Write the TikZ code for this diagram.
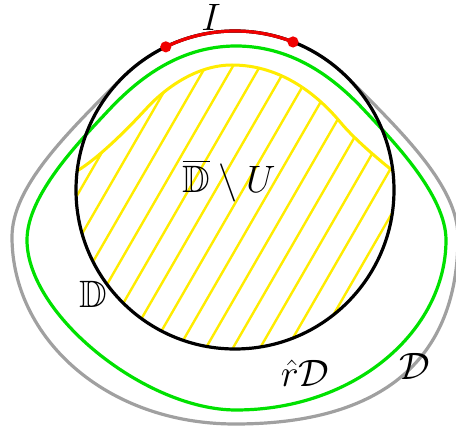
\documentclass[tikz,border=0pt]{standalone}
\usepackage{amssymb}
\usetikzlibrary{calc}
\definecolor{cgray}{RGB}{160,160,160}
\definecolor{cgreen}{RGB}{0,225,0}
\definecolor{cyellow}{RGB}{255,236,0}
\definecolor{cred}{RGB}{240,0,0}
\begin{document}
\begin{tikzpicture}[x=0.5pt,y=-0.5pt,
  graycurve/.style={draw=cgray,line width=1.6pt},
  greencurve/.style={draw=cgreen,line width=1.6pt},
  hatchline/.style={draw=cyellow,line width=1.2pt},
  ucurve/.style={draw=cyellow,line width=1.5pt},
  disk/.style={draw=black,line width=1.6pt},
  redarc/.style={draw=cred,line width=1.6pt},
  reddot/.style={circle,fill=cred,inner sep=0pt,minimum size=5.6pt},
  lbl/.style={font=\huge,inner sep=0pt,anchor=base,scale=0.92,transform shape}]
\useasboundingbox (0,0) rectangle (456,427);
\clip (0,0) rectangle (456,427);
\coordinate (O) at (235,190);
\coordinate (GR) at ($(O)+(-45:159)$);
\coordinate (L) at (12,237);
\coordinate (B) at (235,424);
\coordinate (R) at (458,237);
\coordinate (YL) at ($(O)+(186.9:159)$);
\coordinate (YR) at ($(O)+(-6.9:159)$);
\coordinate (IA) at ($(O)+(-115.8:159)$);
\coordinate (IB) at ($(O)+(-68.6:159)$);
% outer domain D
\draw[graycurve] (GR) arc[start angle=-45,end angle=-135,radius=159]
  .. controls (66,134) and (12,187) .. (L)
  .. controls (12,337) and (105,424) .. (B)
  .. controls (385,424) and (458,357) .. (R)
  .. controls (458,187) and (404,134) .. cycle;
% r D
\coordinate (GT) at (236,46);
\coordinate (GM1) at (365,111);
\coordinate (GRM) at (446,240);
\coordinate (GB) at (236,410);
\coordinate (GLM) at (27,240);
\coordinate (GM2) at (107,112);
\draw[greencurve] (GT)
  .. controls (296,46) and (338,82) .. (GM1)
  .. controls (392,140) and (446,195) .. (GRM)
  .. controls (446,330) and (356,410) .. (GB)
  .. controls (146,410) and (27,315) .. (GLM)
  .. controls (27,195) and (80,141) .. (GM2)
  .. controls (134,83) and (176,46) .. cycle;
% boundary of U inside the disk
\coordinate (YT) at (232,65);
\coordinate (YM) at (341,123);
\coordinate (YM2) at (145,110);
\def\ucurvepath{(YL) .. controls (98.6,158) and (128,128.5) .. (YM2)
  .. controls (165,87.8) and (197,65) .. (YT)
  .. controls (282,65) and (318.6,96) .. (YM)
  .. controls (353.8,138.4) and (377.2,158.4) .. (YR)}
\begin{scope}
\clip \ucurvepath arc[start angle=-6.9,end angle=186.9,radius=159] -- cycle;
\foreach \k in {-8,...,16}{
  \draw[hatchline] ({90+27.1*\k-115.4},420) -- ({90+27.1*\k+115.4},20);
}
\end{scope}
\draw[ucurve] \ucurvepath;
% unit disk
\draw[disk] (O) circle[radius=159];
% arc I
\draw[redarc] (IA) arc[start angle=-115.8,end angle=-68.6,radius=159];
\node[reddot] (dA) at (IA) {};
\node[reddot] (dB) at (IB) {};
% labels
\node[lbl] (lI) at (211,31) {$I$};
\node[lbl] (lDU) at (229,193) {$\overline{\mathbb{D}}\setminus U$};
\node[lbl] (lD) at (93,308) {$\mathbb{D}$};
\node[lbl] (lrD) at (305,387) {$\hat r\mathcal{D}$};
\node[lbl] (lcD) at (415,380) {$\mathcal{D}$};
\end{tikzpicture}
\end{document}
